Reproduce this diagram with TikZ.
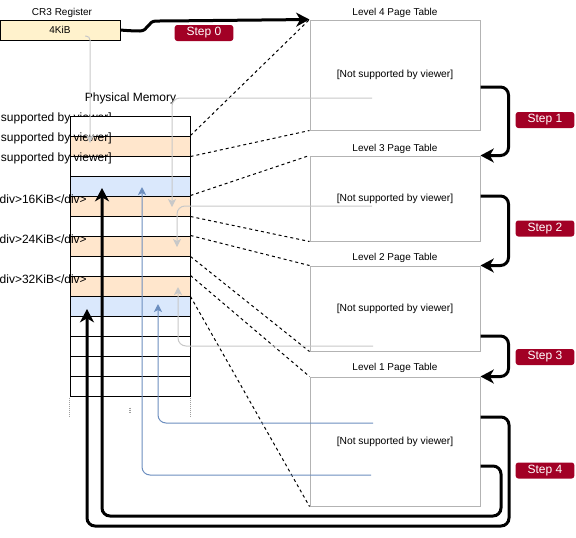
\documentclass[tikz,border=0pt]{standalone}
\usepackage{fontspec}
\setmainfont{Liberation Sans}
\usetikzlibrary{arrows.meta}
\definecolor{memorange}{HTML}{FFE6CC}
\definecolor{memblue}{HTML}{DAE8FC}
\definecolor{regfill}{HTML}{FFF2CC}
\definecolor{stepred}{HTML}{A20025}
\definecolor{tblgray}{HTML}{B3B3B3}
\definecolor{lnkgray}{HTML}{C8C8C8}
\definecolor{lnkblue}{HTML}{6C8EBF}

\begin{document}
\begin{tikzpicture}[
  x=0.75pt, y=-0.75pt,
  cell/.style={
    draw, line width=0.75pt, inner sep=0pt,
    minimum width=90pt, minimum height=15pt
  },
  tbl/.style={
    draw=tblgray, line width=0.75pt, fill=white, inner sep=0pt,
    minimum width=127.5pt, font=\fontsize{7.7}{9}\selectfont
  },
  ttl/.style={font=\fontsize{7.5}{9}\selectfont, inner sep=0pt},
  big/.style={font=\fontsize{9}{10}\selectfont, inner sep=0pt},
  stepbox/.style={
    fill=stepred, text=white, rounded corners=2pt, inner sep=0pt,
    minimum width=44pt, minimum height=12pt, font=\fontsize{9}{10}\selectfont
  },
  zoomln/.style={dash pattern=on 2.25pt off 2.25pt, line width=0.75pt},
  memdots/.style={draw=gray!75, line width=1.1pt, dash pattern=on 0.75pt off 0.75pt},
  walk/.style={
    line width=2.25pt, rounded corners=6pt,
    -{Stealth[length=10pt, width=10.5pt, inset=3pt]}
  },
  gref/.style={
    draw=lnkgray, line width=0.75pt, rounded corners=6pt,
    -{Stealth[length=6pt, width=6pt, inset=1.5pt]}
  },
  bref/.style={gref, draw=lnkblue}
]
  \useasboundingbox (0,0) rectangle (576,537);

  % register
  \node[ttl] (cr3t) at (62,13) {CR3 Register};
  \node[cell, fill=regfill, font=\fontsize{7.5}{9}\selectfont] (cr3) at (60,30) {4KiB};

  % physical memory
  \node[big] (physmem) at (130.5,98) {Physical Memory};
  \node[big, anchor=east] (lbl0) at (112,118) {[Not supported by viewer]};
  \foreach \i/\c in {0/white,1/memorange,2/white,3/memblue,4/memorange,5/white,6/memorange,
                     7/white,8/memorange,9/memblue,10/white,11/white,12/white,13/white} {
    \node[cell, fill=\c] (mem\i) at (130,{126+20*\i}) {};
  }
  \node[big, anchor=east] (lbl1) at (112,138) {[Not supported by viewer]};
  \node[big, anchor=east] (lbl2) at (112,158) {[Not supported by viewer]};
  \foreach \k/\y in {16/199,24/239,32/279} {
    \node[big, anchor=east] (lbl\k) at (87,\y) {<div>\k KiB</div>};
  }
  \draw[memdots] (mem13.south west) ++(0,1) -- ++(0,20);
  \draw[memdots] (mem13.south) ++(0,11) -- ++(0,6);
  \draw[memdots] (mem13.south east) ++(0,1) -- ++(0,20);

  % page tables
  \node[tbl, minimum height=82.5pt] (pt4) at (395,75) {[Not supported by viewer]};
  \node[tbl, minimum height=63.75pt] (pt3) at (395,198.5) {[Not supported by viewer]};
  \node[tbl, minimum height=63.75pt] (pt2) at (395,308.5) {[Not supported by viewer]};
  \node[tbl, minimum height=96.75pt] (pt1) at (395,441.5) {[Not supported by viewer]};
  \foreach \n/\y in {4/13,3/149,2/258,1/368} {
    \node[ttl] (ttl\n) at (395,\y) {Level \n\ Page Table};
  }
  \foreach \r/\t in {1/pt4,4/pt3,6/pt2,8/pt1} {
    \draw[zoomln] (mem\r.north east) -- (\t.north west);
    \draw[zoomln] (mem\r.south east) -- (\t.south west);
  }

  % entries pointing back into memory
  \coordinate (g0) at (85,36);   \coordinate (g0e) at (90,143);
  \coordinate (g4) at (372,98);  \coordinate (g4e) at (172,207);
  \coordinate (g3) at (372,206); \coordinate (g3e) at (177,247);
  \coordinate (g2) at (373,346); \coordinate (g2e) at (178,287);
  \coordinate (b1) at (373,423); \coordinate (b1e) at (158,304);
  \coordinate (b2) at (371,475); \coordinate (b2e) at (142,187);
  \draw[gref, rounded corners=3pt] (g0) -| (g0e);
  \draw[gref] (g4) -| (g4e);
  \draw[gref] (g3) -| (g3e);
  \draw[gref] (g2) -| (g2e);
  \draw[bref] (b1) -| (b1e);
  \draw[bref] (b2) -| (b2e);

  % the walk
  \coordinate (s4a) at (87,309);
  \coordinate (s4b) at (102,188);
  \draw[walk] (cr3.east) -- (132,31) .. controls (148,31) and (148,21) .. (164,21)
    -- (pt4.north west);
  \draw[walk] (pt4.east |- 0,87) -| ([xshift=21pt]pt3.north east) -- (pt3.north east);
  \draw[walk] (pt3.east |- 0,196) -| ([xshift=21pt]pt2.north east) -- (pt2.north east);
  \draw[walk] (pt2.east |- 0,336) -| ([xshift=21pt]pt1.north east) -- (pt1.north east);
  \draw[walk] (pt1.east |- 0,417) -| (509,526) -| (s4a);
  \draw[walk] (pt1.east |- 0,466) -| (501,516) -| (s4b);
  \foreach \n/\x/\y in {0/204/33,1/545/120,2/545/228.5,3/545/357,4/545/470.5} {
    \node[stepbox] (step\n) at (\x,\y) {Step \n};
  }
\end{tikzpicture}
\end{document}
